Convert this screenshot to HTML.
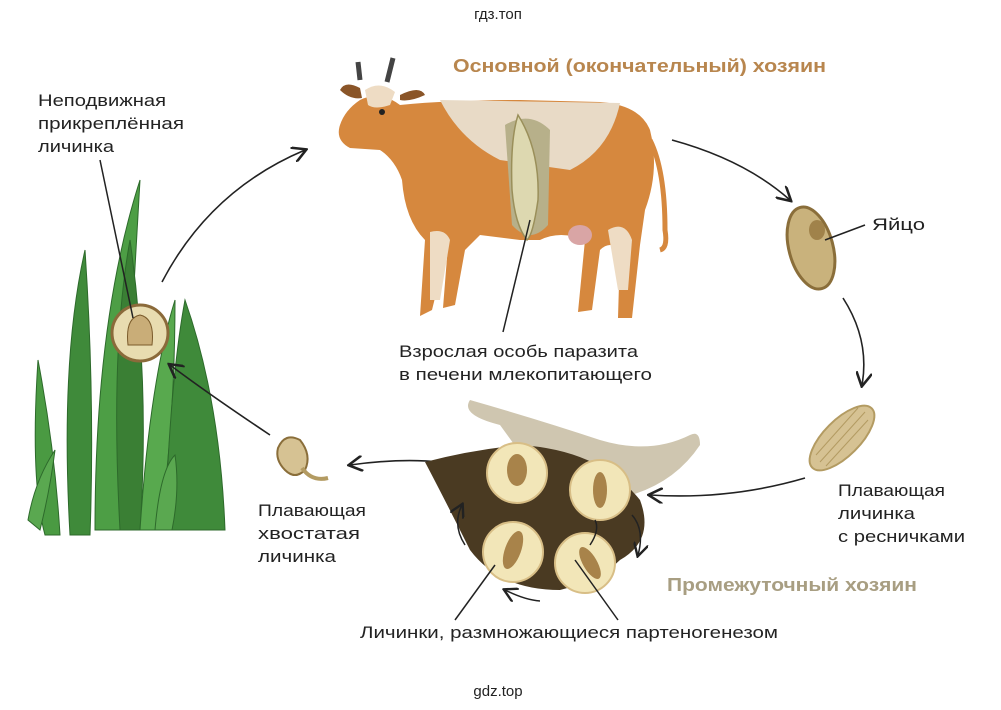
<!DOCTYPE html>
<html><head><meta charset="utf-8"><style>
body{margin:0;background:#fff}
svg{display:block}
text{font-family:"Liberation Sans",sans-serif}
</style></head><body>
<svg width="1001" height="710" viewBox="0 0 1001 710" xmlns="http://www.w3.org/2000/svg">
<defs><marker id="a" markerWidth="10" markerHeight="10" refX="8" refY="5" orient="auto"><path d="M0,0 L9,5 L0,10" fill="none" stroke="#222" stroke-width="1.6"/></marker></defs>
<rect width="1001" height="710" fill="#fff"/>
<text x="498" y="19" font-size="15" text-anchor="middle" fill="#222">гдз.топ</text>
<text x="498" y="696" font-size="15" text-anchor="middle" fill="#222">gdz.top</text>

<!-- grass -->
<g stroke="#2d6a2b" stroke-width="1">
<path d="M45,535 Q30,480 38,360 Q55,450 60,535Z" fill="#4a9a42"/>
<path d="M28,520 Q35,480 55,450 Q50,490 40,530Z" fill="#5aa850"/>
<path d="M70,535 Q60,360 85,250 Q95,400 90,535Z" fill="#3f8a3a"/>
<path d="M95,530 Q95,320 140,180 Q130,360 120,530Z" fill="#4d9e45"/>
<path d="M120,530 Q110,350 130,240 Q150,380 140,530Z" fill="#3a7f34"/>
<path d="M140,530 Q150,380 175,300 Q175,420 160,530Z" fill="#58a94e"/>
<path d="M165,530 Q170,380 185,300 Q220,400 225,530Z" fill="#3f8a3a"/>
<path d="M155,530 Q160,470 175,455 Q180,490 172,530Z" fill="#5aa850"/>
</g>
<circle cx="140" cy="333" r="28" fill="#e8dcb0" stroke="#8b6a3a" stroke-width="3"/>
<path d="M128,345 Q125,318 140,315 Q155,318 152,345 Z" fill="#c9ad78" stroke="#7a5a2a"/>
<g font-size="17" fill="#222"><text x="38" y="106" textLength="128" lengthAdjust="spacingAndGlyphs">Неподвижная</text><text x="38" y="129" textLength="146" lengthAdjust="spacingAndGlyphs">прикреплённая</text><text x="38" y="152" textLength="76" lengthAdjust="spacingAndGlyphs">личинка</text></g>
<line x1="100" y1="160" x2="133" y2="318" stroke="#222" stroke-width="1.5"/>

<!-- arrows -->
<path d="M162,282 Q210,190 305,150" fill="none" stroke="#222" stroke-width="1.6" marker-end="url(#a)"/>
<path d="M672,140 Q745,160 790,200" fill="none" stroke="#222" stroke-width="1.6" marker-end="url(#a)"/>
<path d="M843,298 Q870,340 862,385" fill="none" stroke="#222" stroke-width="1.6" marker-end="url(#a)"/>
<path d="M805,478 Q730,500 650,495" fill="none" stroke="#222" stroke-width="1.6" marker-end="url(#a)"/>
<path d="M440,462 Q400,458 350,465" fill="none" stroke="#222" stroke-width="1.6" marker-end="url(#a)"/>
<path d="M270,435 Q210,395 170,365" fill="none" stroke="#222" stroke-width="1.6" marker-end="url(#a)"/>

<!-- cow -->
<text x="453" y="72" font-size="18" font-weight="bold" fill="#b8864e" textLength="373" lengthAdjust="spacingAndGlyphs">Основной (окончательный) хозяин</text>
<g>
<path d="M400,105 Q450,100 520,100 L600,102 Q640,105 650,130 Q660,170 645,210 L640,245 L632,318 L618,318 L620,250 Q610,240 600,250 L592,310 L578,312 L585,240 Q560,230 540,240 L520,240 L480,235 L465,250 L455,305 L443,308 L448,245 L432,310 L420,316 L425,240 Q405,220 402,180 Q395,160 380,150 L350,148 Q335,140 340,125 Q345,110 360,100 Q380,90 400,105Z" fill="#d6883e"/>
<path d="M360,88 Q345,80 340,90 Q350,100 362,98Z M400,95 Q420,85 425,95 Q410,102 400,100Z" fill="#8a5528"/>
<path d="M360,80 L358,62 M387,82 L393,58" stroke="#444" stroke-width="5" fill="none"/>
<path d="M365,90 Q380,80 395,92 L390,105 Q375,110 368,105Z" fill="#eedcc4"/>
<circle cx="382" cy="112" r="3" fill="#222"/>
<path d="M440,100 L620,103 Q610,150 570,170 L500,160 Q460,140 440,100Z" fill="#e8dac6"/>
<path d="M650,140 Q665,170 665,230 Q668,248 660,250" fill="none" stroke="#d6883e" stroke-width="5"/>
<path d="M608,230 Q625,220 632,240 L628,290 L618,290Z" fill="#eedcc4"/>
<path d="M430,232 Q445,228 450,240 L440,300 L430,300Z" fill="#eedcc4"/>
<ellipse cx="580" cy="235" rx="12" ry="10" fill="#d9a5a5"/>
<path d="M505,125 Q530,110 550,130 L548,225 Q530,245 512,225Z" fill="#b7b08a"/>
<path d="M518,115 Q540,150 538,200 Q533,235 527,240 Q515,225 512,190 Q510,140 518,115Z" fill="#ddd8b0" stroke="#9a8f5a" stroke-width="1.5"/>
</g>
<line x1="530" y1="220" x2="503" y2="332" stroke="#222" stroke-width="1.5"/>
<g font-size="17" fill="#222"><text x="399" y="357" textLength="239" lengthAdjust="spacingAndGlyphs">Взрослая особь паразита</text><text x="399" y="380" textLength="253" lengthAdjust="spacingAndGlyphs">в печени млекопитающего</text></g>

<!-- egg -->
<ellipse cx="811" cy="248" rx="22" ry="42" transform="rotate(-15 811 248)" fill="#c9b27c" stroke="#8a6e3a" stroke-width="3"/>
<ellipse cx="817" cy="230" rx="8" ry="10" fill="#a0824a"/>
<line x1="825" y1="240" x2="865" y2="225" stroke="#222" stroke-width="1.5"/>
<text x="872" y="230" font-size="17" fill="#222" textLength="53" lengthAdjust="spacingAndGlyphs">Яйцо</text>

<!-- ciliated larva -->
<ellipse cx="842" cy="438" rx="18" ry="42" transform="rotate(45 842 438)" fill="#d6c293" stroke="#b39b62" stroke-width="2"/>
<g stroke="#b39b62" stroke-width="1"><line x1="820" y1="462" x2="865" y2="412"/><line x1="826" y1="466" x2="868" y2="420"/><line x1="816" y1="455" x2="858" y2="408"/></g>
<g font-size="17" fill="#222"><text x="838" y="496" textLength="107" lengthAdjust="spacingAndGlyphs">Плавающая</text><text x="838" y="519" textLength="77" lengthAdjust="spacingAndGlyphs">личинка</text><text x="838" y="542" textLength="127" lengthAdjust="spacingAndGlyphs">с ресничками</text></g>

<!-- snail -->
<path d="M500,425 Q460,415 470,400 Q540,420 600,440 Q650,455 690,435 Q700,430 700,445 Q670,490 610,500 L540,480Z" fill="#cfc6b0"/>
<path d="M425,462 Q470,450 520,445 Q600,450 640,500 Q655,540 620,560 Q600,580 560,590 Q500,590 470,550 Q445,500 425,462Z" fill="#4a3a22"/>
<g fill="#f2e6b8" stroke="#d8be86" stroke-width="2">
<circle cx="517" cy="473" r="30"/><circle cx="600" cy="490" r="30"/>
<circle cx="513" cy="552" r="30"/><circle cx="585" cy="563" r="30"/>
</g>
<g fill="#a8834a"><ellipse cx="517" cy="470" rx="10" ry="16"/><ellipse cx="600" cy="490" rx="7" ry="18"/><ellipse cx="513" cy="550" rx="8" ry="20" transform="rotate(20 513 550)"/><ellipse cx="590" cy="563" rx="7" ry="18" transform="rotate(-30 590 563)"/></g>
<path d="M540,601 Q525,600 505,590" fill="none" stroke="#222" stroke-width="1.5" marker-end="url(#a)"/>
<path d="M465,545 Q452,525 462,505" fill="none" stroke="#222" stroke-width="1.5" marker-end="url(#a)"/>
<path d="M595,520 Q600,530 590,545" fill="none" stroke="#222" stroke-width="1.5"/>
<path d="M632,515 Q645,530 638,555" fill="none" stroke="#222" stroke-width="1.5" marker-end="url(#a)"/>
<text x="667" y="591" font-size="18" font-weight="bold" fill="#a89e82" textLength="250" lengthAdjust="spacingAndGlyphs">Промежуточный хозяин</text>
<line x1="495" y1="565" x2="455" y2="620" stroke="#222" stroke-width="1.5"/>
<line x1="575" y1="560" x2="618" y2="620" stroke="#222" stroke-width="1.5"/>
<text x="360" y="638" font-size="17" fill="#222" textLength="418" lengthAdjust="spacingAndGlyphs">Личинки, размножающиеся партеногенезом</text>

<!-- cercaria -->
<path d="M278,448 Q285,432 300,440 Q312,455 305,470 Q295,480 285,470 Q275,460 278,448Z" fill="#d6c293" stroke="#8a6e3a" stroke-width="2"/>
<path d="M302,468 Q312,482 328,478" fill="none" stroke="#b39b62" stroke-width="4"/>
<g font-size="17" fill="#222"><text x="258" y="516" textLength="108" lengthAdjust="spacingAndGlyphs">Плавающая</text><text x="258" y="539" textLength="102" lengthAdjust="spacingAndGlyphs">хвостатая</text><text x="258" y="562" textLength="78" lengthAdjust="spacingAndGlyphs">личинка</text></g>
</svg>
</body></html>
